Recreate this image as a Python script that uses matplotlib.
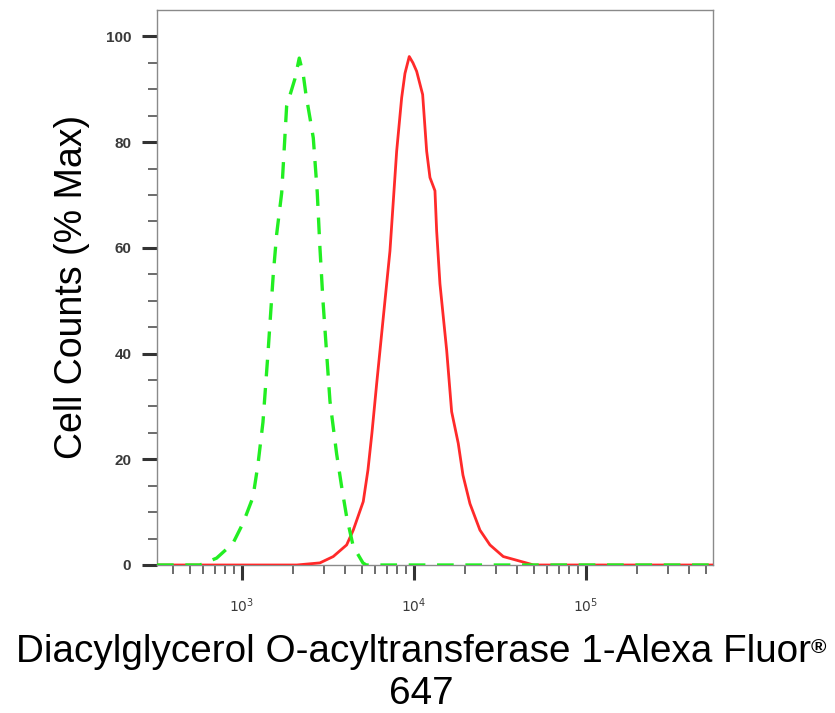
import numpy as np
import matplotlib
matplotlib.use('Agg')
import matplotlib.pyplot as plt
from matplotlib.ticker import LogLocator, NullFormatter, FixedLocator

# isotype control (green dashed)
ctrl_x = [322, 572, 715, 890, 1018, 1163, 1244, 1330, 1422, 1527, 1598, 1709, 1769, 1826,
          2041, 2162, 2281, 2365, 2495, 2609, 2751, 2852, 2970, 3262, 3567, 3814, 4078,
          4456, 5072, 5300, 550000]
ctrl_y = [0, 0, 1.3, 4.1, 7.9, 12.8, 19, 27, 40, 55, 62.6, 70.4, 78.9, 86.8,
          92, 95.9, 92.8, 89, 84.6, 80.8, 70.5, 60, 50, 31, 21, 14.8, 9.1,
          3.5, 0.4, 0, 0]

# stained sample (red solid)
samp_x = [322, 2089, 2852, 3408, 4078, 4456, 5093, 5425, 5722, 6095, 6658, 7281, 7966,
          8517, 8901, 9428, 9906, 10410, 11280, 11900, 12440, 13300, 13605, 14220,
          15560, 16630, 18170, 19350, 21250, 24290, 27770, 33190, 39700, 47460, 49600, 550000]
samp_y = [0, 0, 0.4, 1.6, 3.8, 6.6, 12, 18, 25, 34.3, 46.8, 59.4, 78.3,
          88.4, 93, 96.2, 95, 93.4, 89, 78.3, 73.3, 70.8, 63.2, 53.2,
          40.6, 29, 23, 17, 11.6, 6.6, 3.8, 1.6, 0.9, 0.2, 0, 0]

y_ticks = [0, 20, 40, 60, 80, 100]

fig = plt.figure(figsize=(8.35, 7.13), dpi=100)
ax = fig.add_axes([157 / 835, 1 - 565 / 713, (713 - 157) / 835, (565 - 10) / 713])

ax.plot(samp_x, samp_y, color='#ff2a2a', lw=2.0, zorder=3)
ax.plot(ctrl_x, ctrl_y, color='#22ee22', lw=2.4, ls=(0, (5, 3.5)), zorder=4)

ax.set_xscale('log')
ax.set_xlim(322, 550000)
ax.set_ylim(0, 105)

for s in ax.spines.values():
    s.set_color('#8a8a8a')
    s.set_linewidth(1.0)

ax.xaxis.set_major_locator(FixedLocator([1e3, 1e4, 1e5]))
ax.xaxis.set_minor_locator(LogLocator(base=10, subs=np.arange(2, 10)))
ax.xaxis.set_minor_formatter(NullFormatter())
ax.set_yticks(y_ticks)
ax.set_yticks(np.arange(5, 105, 5), minor=True)

ax.tick_params(axis='both', which='major', direction='out', color='#333333',
               length=10.5, width=2.2, labelcolor='#3a3a3a', labelsize=11)
ax.tick_params(axis='both', which='minor', direction='out', color='#444444',
               length=6.5, width=1.1)
ax.tick_params(axis='x', which='major', pad=12, labelsize=10)
ax.tick_params(axis='y', which='major', pad=8)
for lab in ax.get_yticklabels():
    lab.set_fontfamily('Liberation Sans')
    lab.set_fontweight('bold')

fig.text(72 / 835, 1 - 287 / 713, 'Cell Counts (% Max)', rotation=90,
         ha='center', va='center', fontsize=27, family='Liberation Sans')

# x label, two lines, with a small raised registered sign
line1 = fig.text(413 / 835, 1 - 662 / 713, 'Diacylglycerol O-acyltransferase 1-Alexa Fluor',
                 ha='center', va='baseline', fontsize=27.8, family='Liberation Sans')
fig.text(421 / 835, 1 - 704 / 713, '647', ha='center', va='baseline',
         fontsize=27.8, family='Liberation Sans')
fig.canvas.draw()
bb = line1.get_window_extent()
fig.text(bb.x1 / fig.bbox.width, (bb.y1 - 4) / fig.bbox.height, '®',
         ha='left', va='top', fontsize=15, fontweight='bold', family='Liberation Sans')

fig.savefig('out.png', dpi=100)
